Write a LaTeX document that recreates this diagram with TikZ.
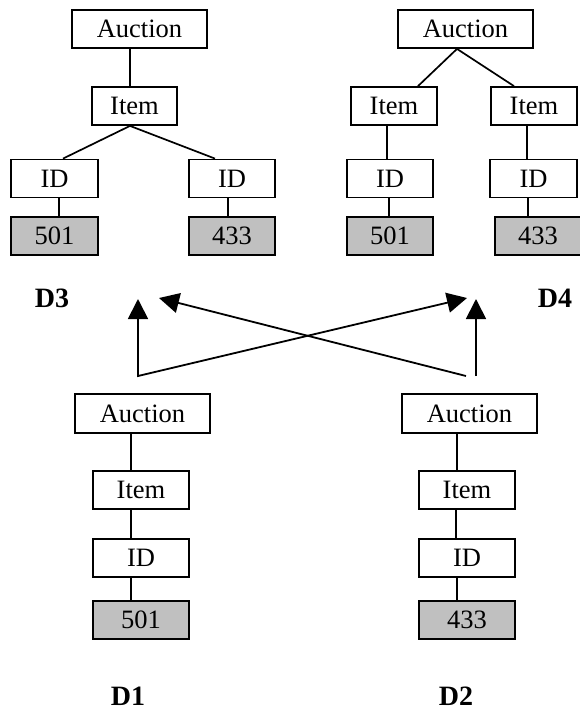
\documentclass[tikz,border=0pt]{standalone}
\usepackage{fontspec}
\setmainfont{Liberation Serif}
\usetikzlibrary{arrows.meta}
\definecolor{boxgray}{HTML}{C0C0C0}

\begin{document}
\begin{tikzpicture}[x=1pt,y=-1pt,
  box/.style={draw, line width=1.8pt, inner sep=0pt, minimum height=38pt,
    text height=17.5pt, text depth=0pt, font=\fontsize{26.5}{31}\selectfont},
  val/.style={box, fill=boxgray},
  conn/.style={line width=1.7pt},
  tipstyle/.style={line width=1.8pt},
  arr/.style={tipstyle, -{Triangle[length=20pt,width=20pt]}},
  darr/.style={tipstyle, {Triangle[length=20pt,width=20pt]}-{Triangle[length=20pt,width=20pt]}},
  lbl/.style={inner sep=0pt, text height=18.5pt, text depth=0pt,
    font=\bfseries\fontsize{28}{32}\selectfont}
]
\useasboundingbox (0,0) rectangle (580,710);

% ---- D3: one item holding both IDs ----
\node[box, minimum width=135pt] (a3) at (139.5,29) {Auction};
\node[box, minimum width=85pt]  (i3) at (134.5,106) {Item};
\node[box, minimum width=87pt]  (d3a) at (54.5,178.5) {ID};
\node[box, minimum width=86pt]  (d3b) at (232,178.5) {ID};
\node[val, minimum width=87pt]  (v3a) at (54.5,236) {501};
\node[val, minimum width=86pt]  (v3b) at (232,236) {433};
\draw[conn] ([xshift=-9.5pt]a3.south) -- ([xshift=-4.5pt]i3.north);
\draw[conn] ([xshift=-4.5pt]i3.south) -- ([xshift=8.5pt]d3a.north);
\draw[conn] ([xshift=-4.5pt]i3.south) -- ([xshift=-17pt]d3b.north);
\draw[conn] ([xshift=4.5pt]d3a.south) -- ([xshift=4.5pt]v3a.north);
\draw[conn] ([xshift=-4pt]d3b.south) -- ([xshift=-4pt]v3b.north);
\node[lbl] (l3) at (52,298) {D3};

% ---- D4: two items ----
\node[box, minimum width=135pt] (a4) at (465.5,29) {Auction};
\node[box, minimum width=86pt]  (i4a) at (394,106) {Item};
\node[box, minimum width=86pt]  (i4b) at (534,106) {Item};
\node[box, minimum width=86pt]  (d4a) at (390,178.5) {ID};
\node[box, minimum width=87pt]  (d4b) at (533.5,178.5) {ID};
\node[val, minimum width=86pt]  (v4a) at (390,236) {501};
\node[val, minimum width=86pt]  (v4b) at (538,236) {433};
\draw[conn] ([xshift=-8.5pt]a4.south) -- ([xshift=24pt]i4a.north);
\draw[conn] ([xshift=-8.5pt]a4.south) -- ([xshift=-20pt]i4b.north);
\draw[conn] ([xshift=-7pt]i4a.south) -- ([xshift=-3pt]d4a.north);
\draw[conn] ([xshift=-7pt]i4b.south) -- ([xshift=-6.5pt]d4b.north);
\draw[conn] ([xshift=-1pt]d4a.south) -- ([xshift=-1pt]v4a.north);
\draw[conn] ([xshift=-5.5pt]d4b.south) -- ([xshift=-10pt]v4b.north);
\node[lbl] (l4) at (555,298) {D4};

% ---- D1 ----
\node[box, minimum width=135pt, minimum height=39pt] (a1) at (142.5,413.5) {Auction};
\node[box, minimum width=96pt] (i1) at (141,490) {Item};
\node[box, minimum width=96pt] (d1) at (141,558) {ID};
\node[val, minimum width=96pt] (v1) at (141,620) {501};
\draw[conn] ([xshift=-11.5pt]a1.south) -- ([xshift=-10pt]i1.north);
\draw[conn] ([xshift=-10pt]i1.south) -- ([xshift=-10pt]d1.north);
\draw[conn] ([xshift=-10pt]d1.south) -- ([xshift=-10pt]v1.north);
\node[lbl] (l1) at (128,696) {D1};

% ---- D2 ----
\node[box, minimum width=135pt, minimum height=39pt] (a2) at (469.5,413.5) {Auction};
\node[box, minimum width=96pt] (i2) at (467,490) {Item};
\node[box, minimum width=96pt] (d2) at (467,558) {ID};
\node[val, minimum width=96pt] (v2) at (467,620) {433};
\draw[conn] ([xshift=-12.5pt]a2.south) -- ([xshift=-10pt]i2.north);
\draw[conn] ([xshift=-11pt]i2.south) -- ([xshift=-11pt]d2.north);
\draw[conn] ([xshift=-10pt]d2.south) -- ([xshift=-10pt]v2.north);
\node[lbl] (l2) at (456,696) {D2};

% ---- merge arrows ----
\coordinate (s1) at (138,376);
\coordinate (s2) at (466,376);
\coordinate (s2v) at (476,376);
\coordinate (t1) at (138,299);
\coordinate (t1x) at (159,298);
\coordinate (t2x) at (467,298);
\coordinate (t2) at (476,299);
\draw[darr] (t1) -- (s1) -- (t2x);
\draw[arr] (s2) -- (t1x);
\draw[arr] (s2v) -- (t2);
\end{tikzpicture}
\end{document}
